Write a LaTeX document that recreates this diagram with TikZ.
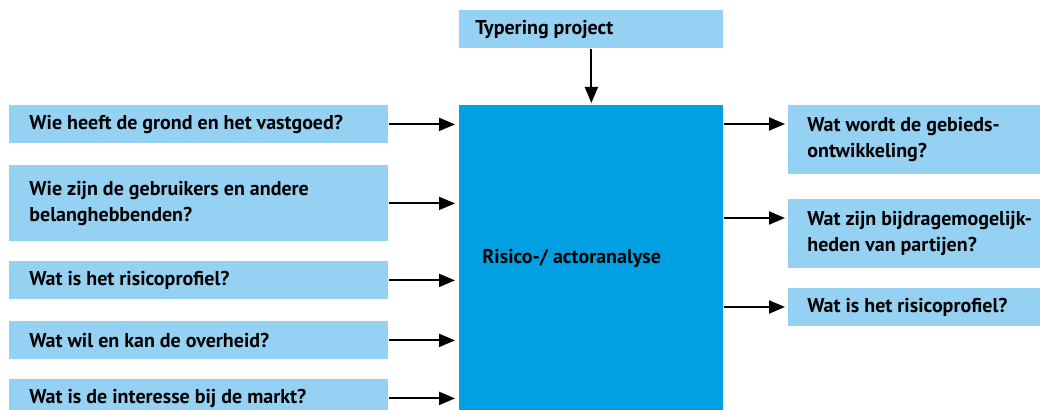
\documentclass[tikz,border=0pt]{standalone}
\usepackage{fontspec}
\setmainfont{PT Sans}
\usetikzlibrary{positioning,calc,arrows.meta}
\definecolor{lichtblauw}{HTML}{95D1F3}
\definecolor{donkerblauw}{HTML}{00A0E3}
\newcommand\krapspatie{\spaceskip=2.5pt plus 1pt\relax}
\tikzset{block/.style={fill=lichtblauw, anchor=north west, inner ysep=0pt, align=left, font=\bfseries\fontsize{10}{13}\selectfont, execute at begin node=\krapspatie},
  links/.style={block, inner xsep=10pt, text width=169.5pt},
  rechts/.style={block, inner xsep=9.5pt, text width=120pt},
  line/.style={-{Triangle[length=8pt,width=6.5pt]}, line width=1pt}}

\begin{document}
\begin{tikzpicture}[x=0.5pt, y=-0.5pt]
    \useasboundingbox (0,0) rectangle (1040,410);
    \node[block, inner xsep=8pt, text width=116pt, minimum height=19pt] (typering) at (459,10) {Typering project};
    \node[block, fill=donkerblauw, inner xsep=11.5pt, text width=109pt, minimum height=153pt] (risico) at (459,105) {Risico-/ actoranalyse};

    \node[links, minimum height=19pt] (grond)      at (9,105) {Wie heeft de grond en het vastgoed?};
    \node[links, minimum height=38pt] (gebruikers) at (9,165) {Wie zijn de gebruikers en andere\\belanghebbenden?};
    \node[links, minimum height=19pt] (profiel)    at (9,261) {Wat is het risicoprofiel?};
    \node[links, minimum height=19pt] (overheid)   at (9,321) {Wat wil en kan de overheid?};
    \node[links, minimum height=19pt] (markt)      at (9,379) {Wat is de interesse bij de markt?};

    \node[rechts, minimum height=34.5pt] (gebied)   at (788,105) {Wat wordt de gebieds-\\ontwikkeling?};
    \node[rechts, minimum height=34.5pt] (bijdrage) at (788,199) {Wat zijn bijdragemogelijk-\\heden van partijen?};
    \node[rechts, minimum height=19pt]   (risicop)  at (788,288) {Wat is het risicoprofiel?};

    \coordinate (gebiedin)   at ($(gebied.north west)+(0,19)$);
    \coordinate (bijdragein) at ($(bijdrage.north west)+(0,19)$);
    \coordinate (risicopin)  at ($(risicop.north west)+(0,19)$);

    \draw[line, shorten >=1pt] (typering) -- (risico);
    \foreach \v in {grond,gebruikers,profiel,overheid,markt}
        \draw[line, shorten >=2pt] (\v) -- (\v -| risico.west);
    \foreach \w in {gebiedin,bijdragein,risicopin}
        \draw[line, shorten >=1.5pt] (risico.east |- \w) -- (\w);
\end{tikzpicture}
\end{document}
